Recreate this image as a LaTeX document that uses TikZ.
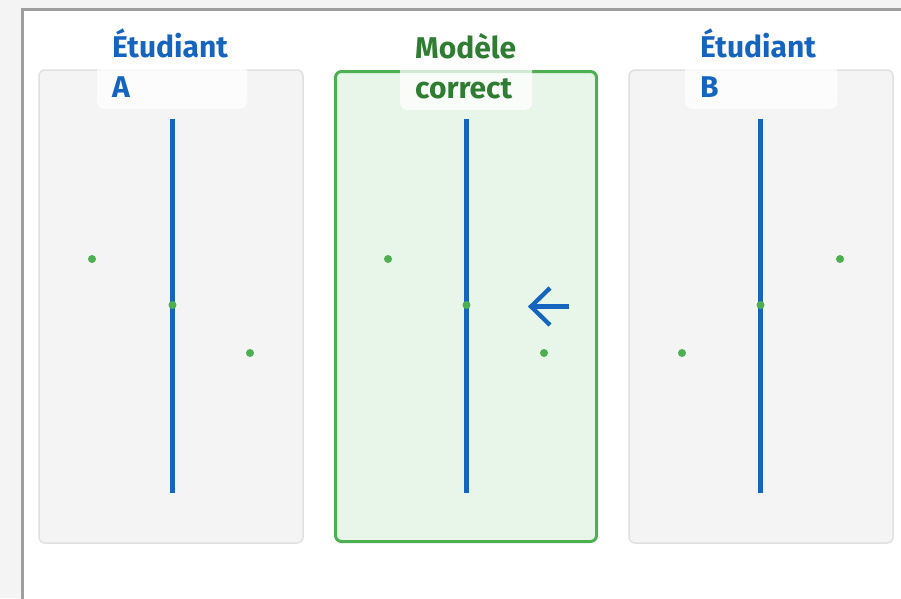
\documentclass[tikz,border=0pt]{standalone}
\usepackage{fontspec}
\setmainfont{Fira Sans}
\definecolor{bgout}{HTML}{F4F4F4}
\definecolor{frameg}{HTML}{9E9E9E}
\definecolor{panelg}{HTML}{F4F4F4}
\definecolor{panelb}{HTML}{E0E0E0}
\definecolor{goodfill}{HTML}{E8F5E9}
\definecolor{goodline}{HTML}{4CAF50}
\definecolor{goodtext}{HTML}{2E7D32}
\definecolor{axisblue}{HTML}{1565C0}
\tikzset{
  panel/.style={draw=panelb, line width=1.5pt, fill=panelg, rounded corners=6pt},
  goodpanel/.style={draw=goodline, line width=3pt, fill=goodfill, rounded corners=6pt},
  tagbox/.style={fill=white, fill opacity=0.75, text opacity=1, rounded corners=7pt,
     inner xsep=15pt, inner ysep=11pt, align=left, anchor=south west,
     font=\fontsize{30}{40}\selectfont\bfseries},
  axisline/.style={draw=axisblue, line width=4.5pt},
  pt/.style={circle, fill=goodline, inner sep=0pt, minimum size=8pt},
  arrowline/.style={draw=axisblue, line width=4.3pt, line join=miter}
}
\begin{document}
\begin{tikzpicture}[x=1pt,y=-1pt]
\useasboundingbox (0,0) rectangle (901,598);
\begin{scope}
\clip (0,0) rectangle (901,598);
\fill[bgout] (0,0) rectangle (901,598);
\filldraw[fill=white, draw=frameg, line width=3pt] (22,9.5) rectangle (960,660);
\end{scope}
% panels
\path[panel] (39,70) rectangle (303,543);
\path[goodpanel] (335.5,71.5) rectangle (596.5,541.5);
\path[panel] (629,70) rectangle (893,543);
% labels
\node[tagbox, text=axisblue, text width=120pt] (la) at (97,109) {Étudiant\\A};
\node[tagbox, text=goodtext, text width=102pt] (lm) at (400,110) {Modèle\\correct};
\node[tagbox, text=axisblue, text width=122pt] (lb) at (685,109) {Étudiant\\B};
% axes
\coordinate (a1) at (172.5,119); \coordinate (a2) at (172.5,493);
\coordinate (m1) at (466.5,119); \coordinate (m2) at (466.5,493);
\coordinate (b1) at (760.5,119); \coordinate (b2) at (760.5,493);
\draw[axisline] (a1) -- (a2);
\draw[axisline] (m1) -- (m2);
\draw[axisline] (b1) -- (b2);
% points
\node[pt] (pa1) at (92,259) {};
\node[pt] (pa2) at (172.5,305) {};
\node[pt] (pa3) at (250,353) {};
\node[pt] (pm1) at (388,259) {};
\node[pt] (pm2) at (466.5,305) {};
\node[pt] (pm3) at (544,353) {};
\node[pt] (pb1) at (840,259) {};
\node[pt] (pb2) at (760.5,305) {};
\node[pt] (pb3) at (682,353) {};
% arrow
\coordinate (tail) at (569,306.5);
\coordinate (tip) at (531,306.5);
\coordinate (w1) at (550,288);
\coordinate (w2) at (550,325);
\draw[arrowline] (tail) -- (tip);
\draw[arrowline] (w1) -- (tip) -- (w2);
\end{tikzpicture}
\end{document}
